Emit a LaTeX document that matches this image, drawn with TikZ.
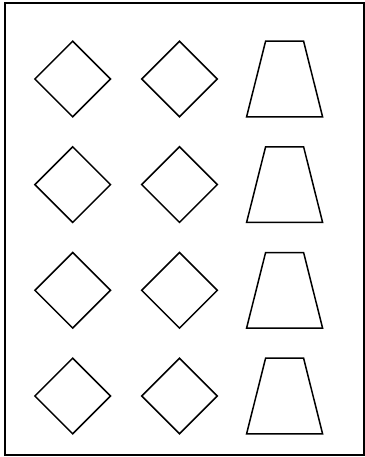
\documentclass[tikz,border=0pt]{standalone}
\usetikzlibrary{calc}

\begin{document}
\begin{tikzpicture}[x=0.5pt,y=-0.5pt,line width=0.75pt,line join=miter]
  % --- page and frame ---
  \useasboundingbox (0,0) rectangle (365,457);
  \coordinate (TL) at (5,3);
  \coordinate (BR) at (364,455);
  \draw[line width=0.6pt] (TL) rectangle (BR);
  % --- four rows: two diamonds and a trapezoid in each ---
  \foreach \row/\cy in {1/79,2/184.6,3/290.3,4/396}{
    \coordinate (DL\row) at (72.7,\cy);    % left diamond
    \coordinate (DR\row) at (179.5,\cy);   % middle diamond
    \coordinate (T\row)  at (284.6,\cy);   % trapezoid
    \draw (DL\row) ++(-37.8,0) -- ++(37.8,-37.8) -- ++(37.8,37.8) -- ++(-37.8,37.8) -- cycle;
    \draw (DR\row) ++(-37.8,0) -- ++(37.8,-37.8) -- ++(37.8,37.8) -- ++(-37.8,37.8) -- cycle;
    \draw (T\row) ++(-19,-37.8) -- ++(38,0) -- ++(19,75.6) -- ++(-76,0) -- cycle;
  }
\end{tikzpicture}
\end{document}
